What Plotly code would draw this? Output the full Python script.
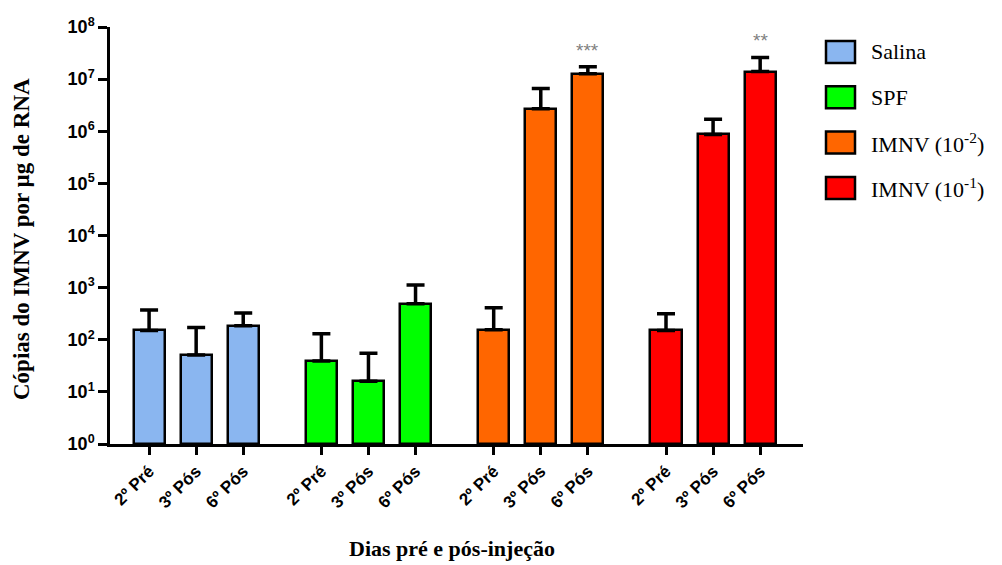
import plotly.graph_objects as go
import numpy as np

groups = ["Salina", "SPF", "IMNV (10<sup>-2</sup>)", "IMNV (10<sup>-1</sup>)"]
days = ["2º Pré", "3º Pós", "6º Pós"]
colors = ["#8AB6F0", "#00FF00", "#FF6600", "#FF0000"]

salina = [150, 50, 185]
salina_err = [370, 170, 325]
spf = [38, 15, 490]
spf_err = [130, 54, 1120]
imnv2 = [155, 2.7e6, 1.27e7]
imnv2_err = [410, 6.6e6, 1.73e7]
imnv1 = [150, 8.7e5, 1.4e7]
imnv1_err = [315, 1.7e6, 2.6e7]

values = [salina, spf, imnv2, imnv1]
tops = [salina_err, spf_err, imnv2_err, imnv1_err]
stars = [["", "", ""], ["", "", ""], ["", "", "***"], ["", "", "**"]]

group_step = 3.66
fig = go.Figure()
tickvals, ticktext = [], []
for g, name in enumerate(groups):
    xs = [g * group_step + j for j in range(len(days))]
    tickvals += xs
    ticktext += list(days)
    v = np.array(values[g], dtype=float)
    t = np.array(tops[g], dtype=float)
    fig.add_trace(go.Bar(
        x=xs, y=v, name=name, width=0.66, base=1,
        marker=dict(color=colors[g], line=dict(color="black", width=2.5)),
        error_y=dict(type="data", symmetric=False, array=t - v,
                     arrayminus=[0] * len(v), color="black", thickness=3.5, width=9),
        showlegend=False,
    ))
    for j, s in enumerate(stars[g]):
        if s:
            fig.add_annotation(x=xs[j], y=np.log10(t[j]), text=s, showarrow=False,
                               yanchor="bottom", yshift=4,
                               font=dict(family="Liberation Sans", size=19, color="#808080"))

# manual legend
px_l, px_r, px_t, px_b = 110, 803, 27, 444
W, H = px_r - px_l, px_b - px_t
for i, name in enumerate(groups):
    yc = 52 + i * 45.3
    fig.add_shape(type="rect", xref="paper", yref="paper",
                  x0=(826 - px_l) / W, x1=(855 - px_l) / W,
                  y0=(px_b - yc - 11) / H, y1=(px_b - yc + 11) / H,
                  fillcolor=colors[i], line=dict(color="black", width=2.5))
    fig.add_annotation(xref="paper", yref="paper", x=(869 - px_l) / W, y=(px_b - yc) / H,
                       text=name, showarrow=False, xanchor="left", yanchor="middle",
                       font=dict(family="Liberation Serif", size=22, color="black"))

# axis titles
fig.add_annotation(xref="paper", yref="paper", x=(452 - px_l) / W, y=(px_b - 548) / H,
                   text="Dias pré e pós-injeção", showarrow=False,
                   xanchor="center", yanchor="middle",
                   font=dict(family="Liberation Serif", size=22, color="black", weight="bold"))
fig.add_annotation(xref="paper", yref="paper", x=(22 - px_l) / W, y=(px_b - 239) / H,
                   text="Cópias do IMNV por µg de RNA", showarrow=False, textangle=-90,
                   xanchor="center", yanchor="middle",
                   font=dict(family="Liberation Serif", size=23, color="black", weight="bold"))

fig.update_layout(
    width=1002, height=565,
    margin=dict(l=px_l, r=1002 - px_r, t=px_t, b=565 - px_b),
    plot_bgcolor="white", paper_bgcolor="white",
    bargap=0,
    xaxis=dict(range=[-0.83, 3 * group_step + 2 + 0.91], tickvals=tickvals, ticktext=ticktext,
               tickangle=-45, ticks="outside", ticklen=8, tickwidth=2.5, tickcolor="black",
               showline=True, linecolor="black", linewidth=2.5, showgrid=False, zeroline=False,
               tickfont=dict(family="Liberation Sans", size=17, color="black", weight="bold")),
    yaxis=dict(type="log", range=[0, 8], tickvals=[10 ** k for k in range(9)],
               ticktext=[f"10<sup>{k}</sup>" for k in range(9)],
               ticks="outside", ticklen=9, tickwidth=2.5, tickcolor="black",
               showline=True, linecolor="black", linewidth=2.5, showgrid=False, zeroline=False,
               tickfont=dict(family="Liberation Sans", size=18, color="black", weight="bold")),
)

fig.write_html("out.html")
